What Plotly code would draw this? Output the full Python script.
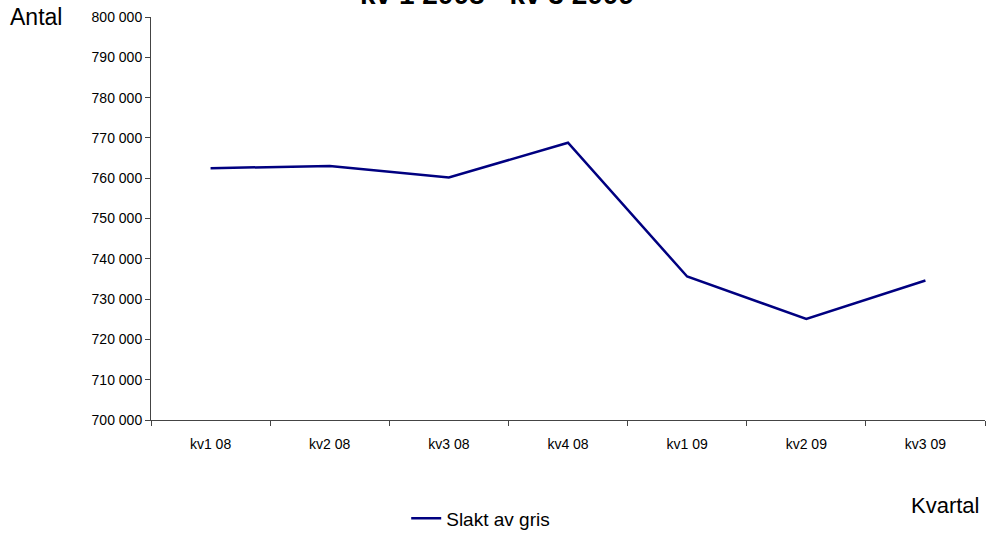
import plotly.graph_objects as go

categories = ["kv1 08", "kv2 08", "kv3 08", "kv4 08", "kv1 09", "kv2 09", "kv3 09"]
slakt_av_gris = [762500, 763000, 760200, 768800, 735600, 725100, 734600]
series_name = "Slakt av gris"
title_text = "kv 1 2008 - kv 3 2009"

fig = go.Figure()
fig.add_trace(go.Scatter(
    x=categories, y=slakt_av_gris, mode="lines", name=series_name,
    line=dict(color="#000080", width=2.5),
))

font_family = "Liberation Sans, Arial, sans-serif"
fig.update_layout(
    width=988, height=540,
    margin=dict(l=151, r=3, t=17, b=118),
    paper_bgcolor="white", plot_bgcolor="white",
    separators=", ",
    font=dict(family=font_family, color="black", size=14),
    showlegend=True,
    legend=dict(orientation="h", x=0.306, xanchor="left", y=-0.244, yanchor="middle",
                font=dict(size=19, family=font_family)),
    xaxis=dict(
        type="category", showgrid=False, showline=True, linecolor="#444444", linewidth=1,
        ticks="outside", ticklen=5, tickcolor="#444444", tickson="boundaries",
        tickfont=dict(size=14), range=[-0.5, 6.5], ticklabelstandoff=11,
    ),
    yaxis=dict(
        range=[700000, 800000], dtick=10000, tickformat=",d",
        showgrid=False, showline=True, linecolor="#444444", linewidth=1,
        ticks="outside", ticklen=5, tickcolor="#444444",
        tickfont=dict(size=14), zeroline=False,
    ),
    annotations=[
        dict(text="Antal", x=-0.172, y=1.0, xref="paper", yref="paper",
             xanchor="left", yanchor="middle", showarrow=False,
             font=dict(size=23, family=font_family)),
        dict(text="Kvartal", x=0.995, y=-0.212, xref="paper", yref="paper",
             xanchor="right", yanchor="middle", showarrow=False,
             font=dict(size=22, family=font_family)),
        dict(text="<b>" + title_text + "</b>", x=0.415, y=1.057, xref="paper", yref="paper",
             xanchor="center", yanchor="middle", showarrow=False,
             font=dict(size=28, family=font_family)),
    ],
)

fig.write_html("out.html", config={"displayModeBar": False},
               post_script="document.body.style.margin='0';")
